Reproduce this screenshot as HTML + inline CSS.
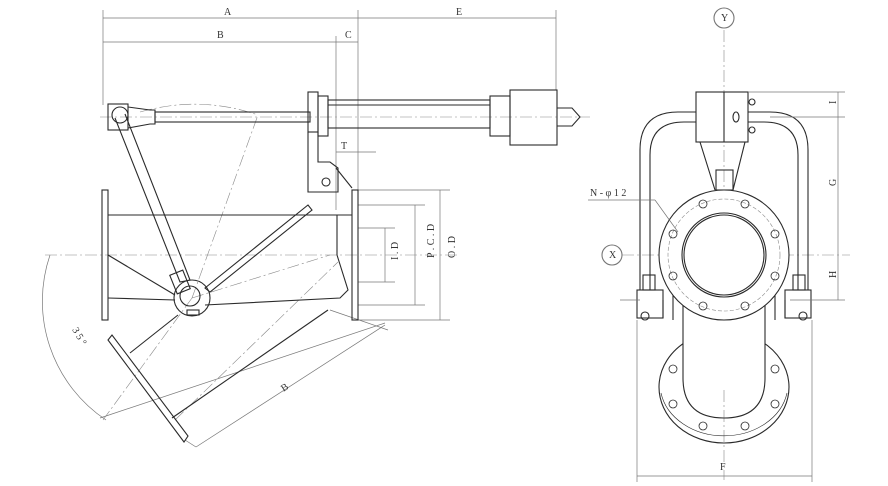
<!DOCTYPE html>
<html><head><style>body{margin:0;background:#fff}svg{display:block}text{font-family:"Liberation Serif",serif;font-size:10px;fill:#333}</style></head><body>
<svg width="888" height="486" viewBox="0 0 888 486" xmlns="http://www.w3.org/2000/svg">
<g fill="none" stroke="#2a2a2a" stroke-width="1.1">
<g stroke="#777" stroke-width="0.7">
<line x1="103" y1="10" x2="103" y2="105"/><line x1="336" y1="36" x2="336" y2="210"/><line x1="358" y1="10" x2="358" y2="190"/><line x1="556" y1="10" x2="556" y2="90"/>
<line x1="103" y1="18" x2="556" y2="18"/><line x1="103" y1="42" x2="358" y2="42"/>
<line x1="336" y1="152" x2="376" y2="152"/>
<line x1="358" y1="190" x2="450" y2="190"/><line x1="358" y1="205" x2="425" y2="205"/><line x1="358" y1="228" x2="395" y2="228"/>
<line x1="358" y1="282" x2="395" y2="282"/><line x1="358" y1="305" x2="425" y2="305"/><line x1="358" y1="320" x2="450" y2="320"/>
<line x1="385" y1="228" x2="385" y2="282"/><line x1="415" y1="205" x2="415" y2="305"/><line x1="440" y1="190" x2="440" y2="320"/>
<line x1="100" y1="418" x2="385" y2="323"/><line x1="330" y1="310" x2="388" y2="330"/><line x1="185" y1="440" x2="196" y2="447"/>
<line x1="196" y1="447" x2="385" y2="325"/>
<path d="M50 255 A143 143 0 0 0 106 420"/>
</g>
<g stroke="#888" stroke-width="0.6" stroke-dasharray="12 3 2 3">
<line x1="100" y1="117" x2="590" y2="117"/><line x1="45" y1="255" x2="460" y2="255"/>
<line x1="724" y1="30" x2="724" y2="480"/><line x1="622" y1="255" x2="850" y2="255"/>
<line x1="192" y1="298" x2="330" y2="255"/><line x1="192" y1="298" x2="258" y2="115"/><line x1="192" y1="298" x2="103" y2="420"/>
<line x1="175" y1="420" x2="338" y2="262"/>
<path d="M140 112 Q200 95 258 115"/>
</g>
<rect x="108" y="104" width="20" height="26"/><circle cx="120" cy="115" r="8"/>
<path d="M128 107 L150 110 L155 110 L155 124 L150 124 L128 128"/>
<rect x="155" y="112" width="155" height="10"/>
<rect x="308" y="92" width="10" height="40"/><rect x="318" y="96" width="10" height="40"/>
<rect x="328" y="100" width="162" height="28"/><line x1="328" y1="105" x2="490" y2="105"/>
<rect x="490" y="96" width="20" height="40"/><rect x="510" y="90" width="47" height="55"/>
<path d="M557 108 L572 108 L580 117 L572 126 L557 126"/>
<path d="M308 132 L308 192 L338 192 L338 168 L330 162 L318 162 L318 132"/><circle cx="326" cy="182" r="4"/>
<line x1="336" y1="168" x2="352" y2="188"/>
<rect x="102" y="190" width="6" height="130"/><rect x="352" y="190" width="6" height="130"/>
<line x1="108" y1="215" x2="352" y2="215"/><line x1="108" y1="298" x2="175" y2="300"/>
<line x1="337" y1="215" x2="337" y2="255"/>
<path d="M337 255 L348 290 L340 298 L205 305"/>
<line x1="108" y1="255" x2="175" y2="295"/>
<path d="M205 288 L308 205 L312 210 L210 292 Z"/>
<line x1="130" y1="353" x2="178" y2="315"/><line x1="172" y1="418" x2="328" y2="310"/>
<path d="M108 340 L112 335 L188 436 L184 442 Z"/>
<path d="M115 118 L180 282 L190 280 L125 114"/>
<rect x="173" y="272" width="14" height="20" transform="rotate(-22 180 282)"/>
<circle cx="192" cy="298" r="18"/><circle cx="190" cy="296" r="10"/>
<rect x="187" y="310" width="12" height="5"/>
<circle cx="724" cy="18" r="10" stroke="#777"/><circle cx="612" cy="255" r="10" stroke="#777"/>
<path d="M640 290 L640 150 Q640 112 678 112 L696 112"/><path d="M650 290 L650 155 Q650 122 684 122 L696 122"/>
<path d="M808 290 L808 150 Q808 112 770 112 L748 112"/><path d="M798 290 L798 155 Q798 122 764 122 L748 122"/>
<rect x="696" y="92" width="52" height="50"/><line x1="724" y1="92" x2="724" y2="142"/><ellipse cx="736" cy="117" rx="3" ry="5"/>
<circle cx="752" cy="102" r="3"/><circle cx="752" cy="130" r="3"/>
<path d="M700 142 L715 190 M745 142 L733 190"/><rect x="716" y="170" width="17" height="20"/>
<rect x="637" y="290" width="26" height="28"/><rect x="643" y="275" width="12" height="15"/><circle cx="645" cy="316" r="4"/>
<rect x="785" y="290" width="26" height="28"/><rect x="793" y="275" width="12" height="15"/><circle cx="803" cy="316" r="4"/>
<line x1="663" y1="300" x2="663" y2="318"/><line x1="673" y1="295" x2="673" y2="320"/><line x1="785" y1="300" x2="785" y2="318"/><line x1="775" y1="295" x2="775" y2="320"/>
<path d="M659 387 A65 56 0 0 0 789 387 A65 56 0 0 0 759 340 M689 340 A65 56 0 0 0 659 387"/>
<path d="M661 393 A64 52 0 0 0 787 393" stroke-width="0.6"/>
<rect x="683" y="300" width="82" height="90" stroke="none" fill="#fff"/>
<path d="M683 300 L683 378 Q683 418 724 418 Q765 418 765 378 L765 300"/>
<circle cx="724" cy="255" r="65" fill="#fff"/><circle cx="724" cy="255" r="56" stroke="#888" stroke-dasharray="4 2" stroke-width="0.6"/>
<circle cx="724" cy="255" r="42"/><circle cx="724" cy="255" r="40"/>
<g stroke-width="0.8">
<circle cx="703" cy="204" r="4"/><circle cx="745" cy="204" r="4"/><circle cx="673" cy="234" r="4"/><circle cx="775" cy="234" r="4"/>
<circle cx="673" cy="276" r="4"/><circle cx="775" cy="276" r="4"/><circle cx="703" cy="306" r="4"/><circle cx="745" cy="306" r="4"/>
<circle cx="673" cy="369" r="4"/><circle cx="775" cy="369" r="4"/><circle cx="673" cy="404" r="4"/><circle cx="775" cy="404" r="4"/>
<circle cx="703" cy="426" r="4"/><circle cx="745" cy="426" r="4"/></g>
<g stroke="#777" stroke-width="0.7">
<line x1="748" y1="92" x2="845" y2="92"/><line x1="770" y1="117" x2="845" y2="117"/><line x1="790" y1="300" x2="845" y2="300"/><line x1="620" y1="300" x2="640" y2="300"/>
<line x1="838" y1="92" x2="838" y2="300"/>
<line x1="637" y1="320" x2="637" y2="482"/><line x1="812" y1="320" x2="812" y2="482"/><line x1="637" y1="476" x2="812" y2="476"/>
<line x1="588" y1="200" x2="655" y2="200"/><line x1="655" y1="200" x2="678" y2="232"/>
</g>
</g>
<text x="224" y="15">A</text><text x="217" y="38">B</text><text x="345" y="38">C</text><text x="456" y="15">E</text>
<text x="341" y="149">T</text><text x="280" y="390" transform="rotate(-33 285 385)">B</text>
<text x="62" y="333" transform="rotate(60 70 340)">3 5 °</text>
<text x="388" y="266" transform="rotate(-90 390 258)">I . D</text>
<text x="418" y="270" transform="rotate(-90 420 256)">P . C . D</text>
<text x="443" y="266" transform="rotate(-90 445 256)">O . D</text>
<text x="721" y="21" font-size="7">Y</text><text x="609" y="258" font-size="7">X</text>
<text x="590" y="196">N - φ 1 2</text>
<text x="720" y="470">F</text>
<text x="832" y="108" transform="rotate(-90 832 104)">I</text>
<text x="832" y="190" transform="rotate(-90 832 186)">G</text>
<text x="832" y="282" transform="rotate(-90 832 278)">H</text>
</svg>
</body></html>
